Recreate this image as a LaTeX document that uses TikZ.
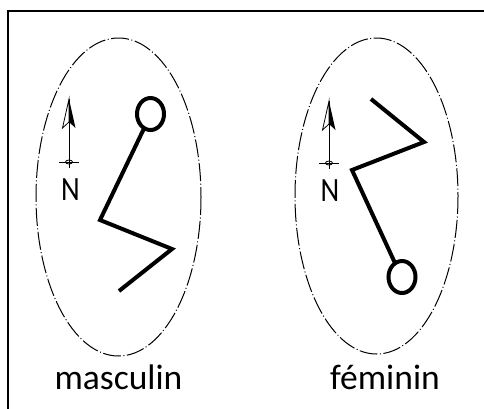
\documentclass[tikz,border=0pt]{standalone}
\usepackage{fontspec}
\setmainfont{Carlito}
\begin{document}
\begin{tikzpicture}[x=1pt,y=-1pt,
  halo/.style={draw, line width=1pt, dash pattern=on 18pt off 2.5pt on 1pt off 2.5pt},
  walk/.style={draw, line width=4pt, line join=miter},
  foot/.style={draw, line width=4pt},
  needle/.style={draw, line width=0.9pt},
  lbl/.style={inner sep=0pt, anchor=base, font=\fontsize{35.5}{35.5}\selectfont},
  nlbl/.style={inner sep=0pt, anchor=base, font=\fontsize{34}{34}\selectfont}]
\useasboundingbox (0,0) rectangle (484,408);
\begin{scope}
\clip (0,0) rectangle (484,408);
\draw[line width=1.6pt] (8,11) rectangle (500,430);
\end{scope}
% left
\path[halo] (118.5,197) ellipse [x radius=82.5, y radius=159];
\path[foot] (150.5,114) ellipse [x radius=13.5, y radius=16];
\coordinate (m0) at (143.5,129.5);
\coordinate (m1) at (100,220);
\coordinate (m2) at (172,249);
\coordinate (m3) at (119,291);
\path[walk] (m0) -- (m1) -- (m2) -- (m3);
% north arrow left
\coordinate (nt1) at (69,99);
\coordinate (nb1) at (69,168);
\path[needle] (nt1) -- (nb1);
\draw[line width=0.8pt] (69,99) -- (62.5,128) -- (69,122) -- cycle;
\fill (69,99) -- (75.5,128) -- (69,122) -- cycle;
\draw[line width=0.9pt] (59,162) -- (79,162);
\draw[line width=0.8pt] (69,162) ellipse [x radius=3.5, y radius=2];
\node[nlbl] (n1) at (70.5,200) {\scalebox{0.85}[1]{N}};
\node[lbl] (t1) at (118.5,389) {masculin};
% right
\path[halo] (376.5,196) ellipse [x radius=81.5, y radius=158];
\path[foot] (402,277) ellipse [x radius=13.5, y radius=16];
\coordinate (f0) at (371,99);
\coordinate (f1) at (424,142);
\coordinate (f2) at (352,170);
\coordinate (f3) at (394.5,262);
\path[walk] (f0) -- (f1) -- (f2) -- (f3);
\coordinate (nt2) at (329,101);
\coordinate (nb2) at (329,169);
\path[needle] (nt2) -- (nb2);
\draw[line width=0.8pt] (329,101) -- (322.5,130) -- (329,124) -- cycle;
\fill (329,101) -- (335.5,130) -- (329,124) -- cycle;
\draw[line width=0.9pt] (319,163) -- (339,163);
\draw[line width=0.8pt] (329,163) ellipse [x radius=3.5, y radius=2];
\node[nlbl] (n2) at (330,201) {\scalebox{0.85}[1]{N}};
\node[lbl] (t2) at (385,389) {féminin};
\end{tikzpicture}
\end{document}
